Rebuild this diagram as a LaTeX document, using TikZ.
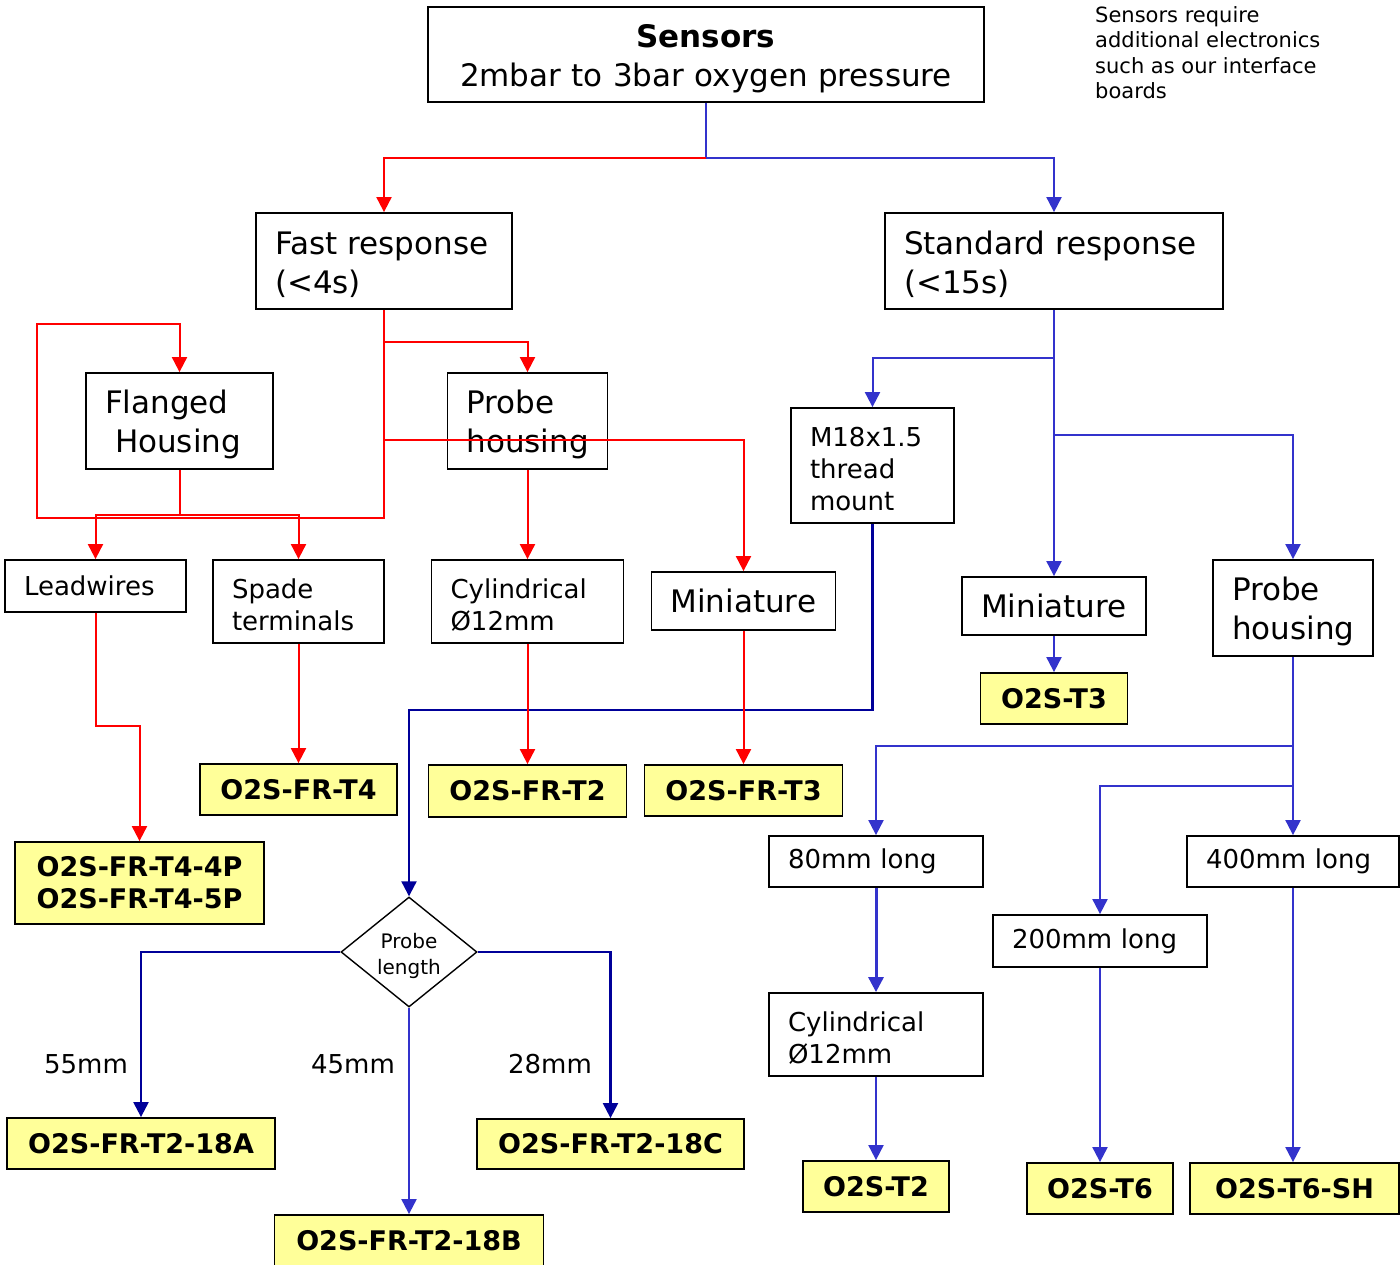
\documentclass[tikz,border=0pt]{standalone}
\usepackage{fontspec}
\setmainfont{DejaVu Sans}
\usetikzlibrary{arrows.meta, positioning, shapes.geometric}
\definecolor{fastred}{HTML}{FF0000}
\definecolor{stdblue}{HTML}{3333CC}
\definecolor{probenavy}{HTML}{000099}
\definecolor{partfill}{HTML}{FFFF99}
\newcommand{\bigtxt}{\fontsize{31}{39}\selectfont}
\newcommand{\midtxt}{\fontsize{26}{32}\selectfont}
\newcommand{\parttxt}{\fontsize{27}{32}\selectfont\bfseries}
\newcommand{\notetxt}{\fontsize{21}{25.5}\selectfont}
\newcommand{\choicetxt}{\fontsize{20}{26}\selectfont}
\tikzset{
  optbox/.style={draw=black, line width=1.8pt, fill=white, align=left, inner ysep=0pt, inner xsep=19pt, font=\bigtxt},
  lowtext/.style={execute at begin node={\rule{0pt}{1em}}},
  partbox/.style={draw=black, line width=1.8pt, fill=partfill, align=center, inner sep=0pt, font=\parttxt},
  choice/.style={diamond, draw=black, line width=1.4pt, fill=white, inner sep=0pt,
                 minimum width=136pt, minimum height=110pt},
  lenlbl/.style={font=\midtxt},
  fastline/.style={draw=fastred, line width=2pt},
  stdline/.style={draw=stdblue, line width=2pt},
  navyline/.style={draw=probenavy, line width=2.2pt},
  headed/.style={-{Triangle[length=15pt, width=15pt]}}
}

\begin{document}
\begin{tikzpicture}[x=1pt, y=-1pt]

  \useasboundingbox (0,0) rectangle (1400,1265);
  \fill[white] (0,0) rectangle (1400,1265);

  % ---- Top level -----------------------------------------------------------
  \node[optbox, lowtext, align=center, text width=518pt, minimum height=95pt] (sensors) at (706,54.5)
        {{\bfseries Sensors}\\2mbar to 3bar oxygen pressure};
  \node[font=\notetxt, align=left, inner sep=0pt, anchor=north west] (note) at (1095,6)
        {Sensors require\\additional electronics\\such as our interface\\boards};

  \node[optbox, lowtext, text width=218pt, minimum height=96pt] (fast) at (384,261) {Fast response\\(<4s)};
  \node[optbox, lowtext, text width=300pt, minimum height=96pt] (std) at (1054,261) {Standard response\\(<15s)};

  % ---- Fast response options -----------------------------------------------
  \node[optbox, lowtext, text width=149pt, minimum height=96pt] (flanged) at (179.5,421) {Flanged\\\hspace*{10pt}Housing};
  \node[optbox, lowtext, text width=122pt, minimum height=96pt] (probe_fr) at (527.5,421) {Probe\\housing};
  \node[optbox, font=\midtxt, text width=143pt, minimum height=52pt] (leadwires) at (95.5,586) {Leadwires};
  \node[optbox, lowtext, font=\midtxt, text width=133pt, minimum height=83pt] (spade) at (298.5,601.5) {Spade\\terminals};
  \node[optbox, lowtext, font=\midtxt, text width=154pt, minimum height=83pt] (cyl_fr) at (527.5,601.5) {Cylindrical\\Ø12mm};
  \node[optbox, text width=146pt, minimum height=58pt] (mini_fr) at (743.5,601) {Miniature};

  % ---- Standard response options -------------------------------------------
  \node[optbox, lowtext, font=\midtxt, text width=125pt, minimum height=115pt] (m18) at (872.5,465.5) {M18x1.5\\thread\\mount};
  \node[optbox, text width=146pt, minimum height=58pt] (mini_std) at (1054,606) {Miniature};
  \node[optbox, lowtext, text width=122pt, minimum height=96pt] (probe_std) at (1293,608) {Probe\\housing};
  \node[optbox, font=\midtxt, text width=176pt, minimum height=51pt] (m80) at (876,861.5) {80mm long};
  \node[optbox, font=\midtxt, text width=176pt, minimum height=52pt] (m200) at (1100,941) {200mm long};
  \node[optbox, font=\midtxt, text width=174pt, minimum height=51pt] (m400) at (1293,861.5) {400mm long};
  \node[optbox, lowtext, font=\midtxt, text width=176pt, minimum height=83pt] (cyl_std) at (876,1034.5) {Cylindrical\\Ø12mm};

  \node[choice, label={[font=\choicetxt, align=center, yshift=-3.5pt]center:Probe\\length}] (choice) at (409,952) {};

  % ---- Part numbers --------------------------------------------------------
  \node[partbox, minimum width=147pt, minimum height=51pt] (t3) at (1054,698.5) {O2S-T3};
  \node[partbox, minimum width=197pt, minimum height=51pt] (fr_t4) at (298.5,789.5) {O2S-FR-T4};
  \node[partbox, minimum width=198pt, minimum height=52pt] (fr_t2) at (527.5,791) {O2S-FR-T2};
  \node[partbox, minimum width=198pt, minimum height=51pt] (fr_t3) at (743.5,790.5) {O2S-FR-T3};
  \node[partbox, minimum width=249pt, minimum height=82pt] (fr_t45) at (139.5,883) {O2S-FR-T4-4P\\O2S-FR-T4-5P};
  \node[partbox, minimum width=268pt, minimum height=51pt] (a18) at (141,1143.5) {O2S-FR-T2-18A};
  \node[partbox, minimum width=269pt, minimum height=52pt] (b18) at (409,1241) {O2S-FR-T2-18B};
  \node[partbox, minimum width=267pt, minimum height=50pt] (c18) at (610.5,1144) {O2S-FR-T2-18C};
  \node[partbox, minimum width=146pt, minimum height=51pt] (t2) at (876,1186.5) {O2S-T2};
  \node[partbox, minimum width=146pt, minimum height=51pt] (t6) at (1100,1188.5) {O2S-T6};
  \node[partbox, minimum width=209pt, minimum height=51pt] (t6sh) at (1294.5,1188.5) {O2S-T6-SH};

  \node[lenlbl] (l55) at (86,1064) {55mm};
  \node[lenlbl] (l45) at (353,1064) {45mm};
  \node[lenlbl] (l28) at (550,1064) {28mm};

  % ---- Standard response connectors ----------------------------------------
  \coordinate (sj) at (706,158);
  \draw[stdline] (sensors.south) -- (sj);
  \draw[stdline, headed] (sj) -| (std.north);

  \coordinate (sj1) at (1054,358);
  \coordinate (sj2) at (1054,435);
  \draw[stdline] (std.south) -- (sj2);
  \draw[stdline, headed] (sj1) -| (m18.north);
  \draw[stdline, headed] (sj2) -- (mini_std.north);
  \draw[stdline, headed] (sj2) -| (probe_std.north);
  \draw[stdline, headed] (mini_std.south) -- (t3.north);
  \draw[navyline, headed] (m18.south) -- (872.5,710) -| (choice.north);

  \coordinate (pj1) at (1293,746);
  \coordinate (pj2) at (1293,786);
  \draw[stdline, headed] (probe_std.south) -- (m400.north);
  \draw[stdline, headed] (pj1) -| (m80.north);
  \draw[stdline, headed] (pj2) -| (m200.north);
  \draw[stdline, line width=3pt, headed] (m80.south) -- (cyl_std.north);
  \draw[stdline, headed] (cyl_std.south) -- (t2.north);
  \draw[stdline, headed] (m200.south) -- (t6.north);
  \draw[stdline, headed] (m400.south) -- (m400.south |- t6sh.north);

  \draw[navyline, headed] (choice.west) -| (a18.north);
  \draw[navyline, headed] (choice.east) -| (c18.north);
  \draw[stdline, headed] (choice.south) -- (b18.north);

  % ---- Fast response connectors --------------------------------------------
  \draw[fastline, headed] (sj) -| (fast.north);

  \coordinate (fj1) at (384,342);
  \coordinate (fj2) at (384,440);
  \coordinate (fj3) at (384,518);
  \draw[fastline, headed] (fast.south) -- (fj3) -- (37,518) -- (37,324) -| (flanged.north);
  \draw[fastline, headed] (fj1) -| (probe_fr.north);
  \draw[fastline, headed] (fj2) -| (mini_fr.north);

  \coordinate (hj) at (179.5,515);
  \draw[fastline] (flanged.south) -- (hj);
  \draw[fastline, headed] (hj) -| (leadwires.north);
  \draw[fastline, headed] (hj) -| (spade.north);
  \draw[fastline, headed] (leadwires.south) -- (95.5,726) -| (fr_t45.north);
  \draw[fastline, headed] (spade.south) -- (fr_t4.north);
  \draw[fastline, headed] (probe_fr.south) -- (cyl_fr.north);
  \draw[fastline, headed] (cyl_fr.south) -- (fr_t2.north);
  \draw[fastline, headed] (mini_fr.south) -- (fr_t3.north);

\end{tikzpicture}
\end{document}
